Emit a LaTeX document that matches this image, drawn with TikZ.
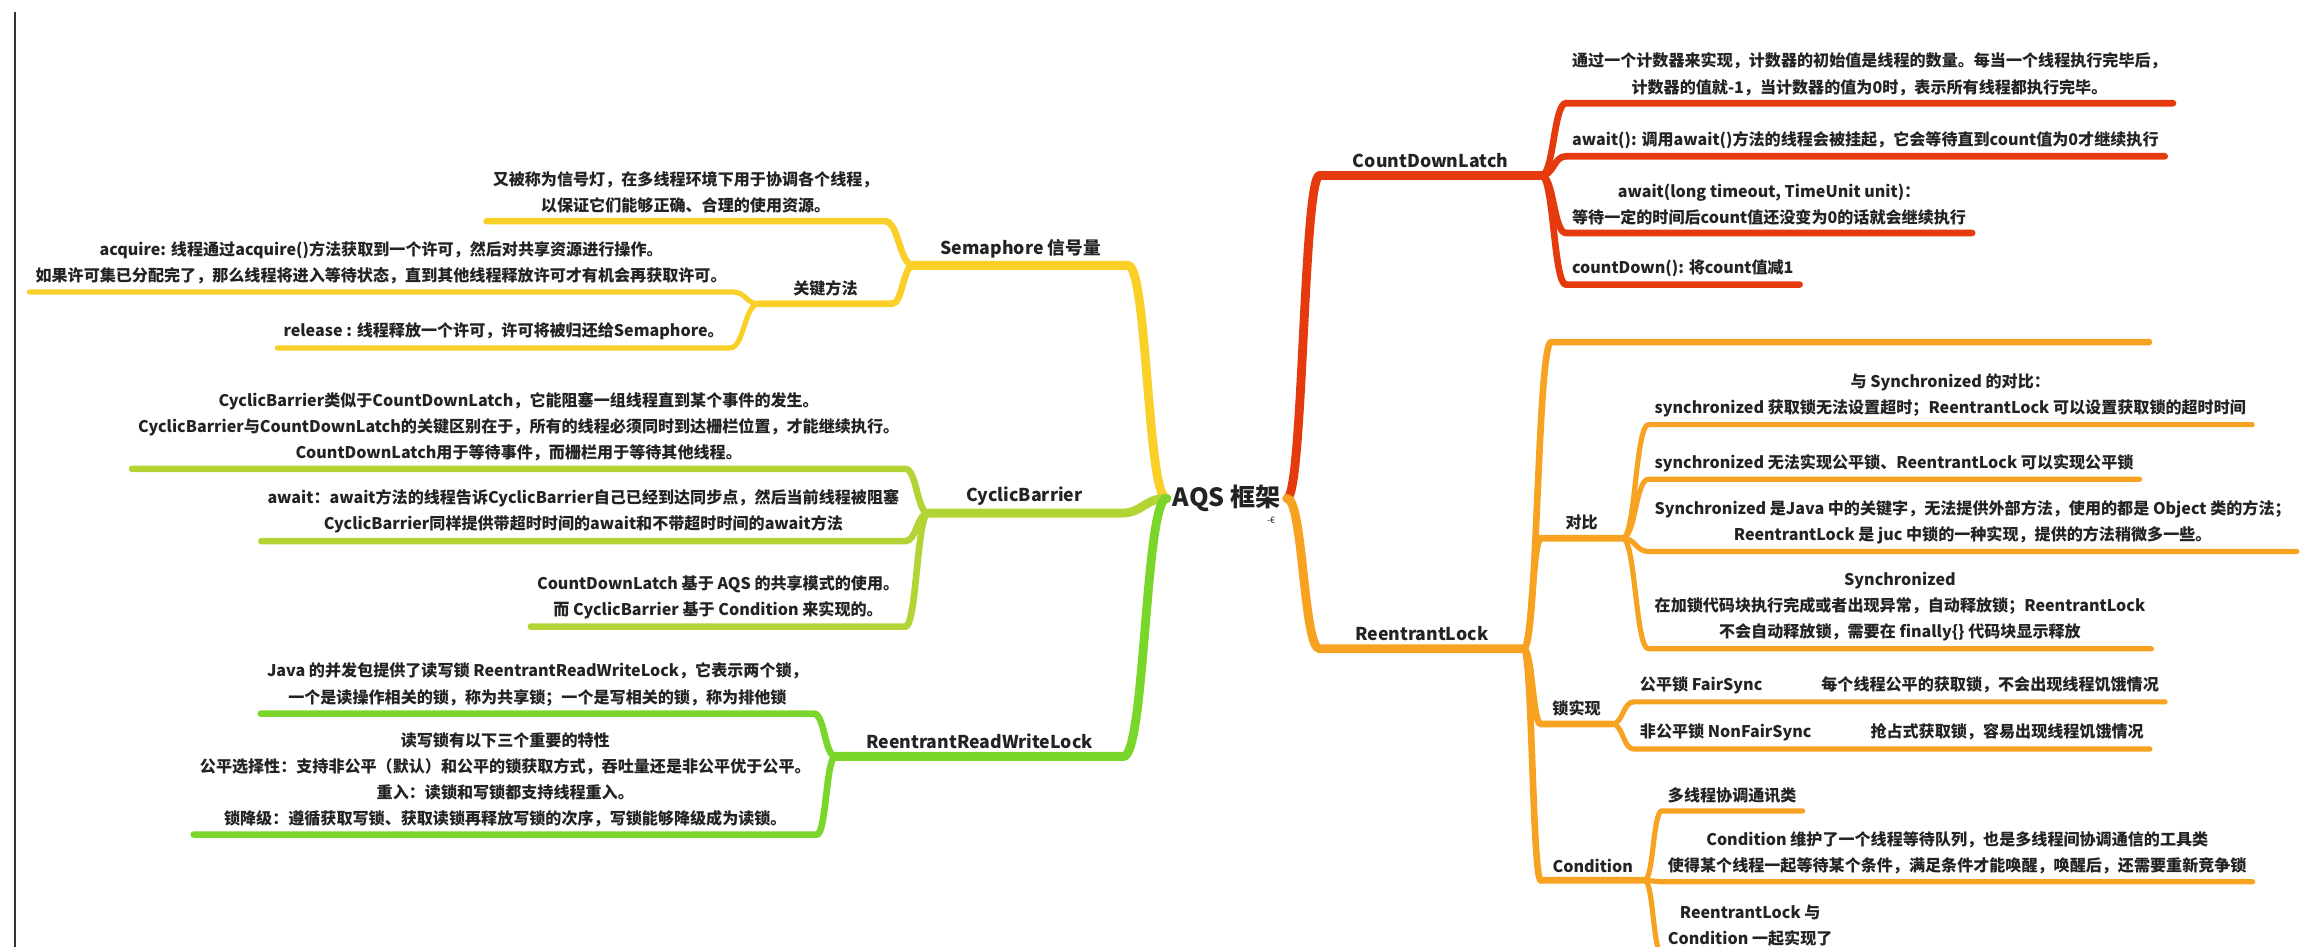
\documentclass[tikz,border=0pt]{standalone}
\usepackage{fontspec}
\setmainfont{Noto Sans CJK SC}
\usetikzlibrary{calc}

\definecolor{semcol}{RGB}{250,208,40}
\definecolor{cbcol}{RGB}{178,212,52}
\definecolor{rwcol}{RGB}{122,214,42}
\definecolor{cdlcol}{RGB}{228,58,14}
\definecolor{rlcol}{RGB}{247,162,32}
\definecolor{txtcol}{RGB}{35,35,35}

\begin{document}
\begin{tikzpicture}[x=1pt,y=-1pt]
    \tikzstyle{branch}=[to path={.. controls ($(\tikztostart)!0.5!(\tikztostart -| \tikztotarget)$) and ($(\tikztotarget)!0.5!(\tikztotarget -| \tikztostart)$) .. (\tikztotarget) \tikztonodes}]
    \tikzstyle{topic}=[font=\fontsize{12}{16}\selectfont\bfseries,text=txtcol,inner xsep=0pt,inner ysep=5pt]
    \tikzstyle{leaf}=[font=\fontsize{10.9}{17.7}\selectfont\bfseries,text=txtcol,align=center,inner xsep=4pt,inner ysep=5pt]
    \tikzstyle{trunk}=[line width=6pt,line cap=round]
    \tikzstyle{twig}=[line width=4.5pt,line cap=round]
    \tikzstyle{sprig}=[line width=3.5pt,line cap=round]

    \useasboundingbox (0,0) rectangle (1568,642);
    \clip (0,0) rectangle (1568,642);
    \draw[line width=1.4pt,black!80] (10,8) -- (10,642);

    \node[font=\fontsize{17}{20}\selectfont\bfseries,text=txtcol,inner xsep=4pt](aqs) at (832,338){AQS 框架};
    \node[font=\fontsize{6}{7}\selectfont,text=txtcol](aqsmark) at (862,353){-€};

    \node[topic,anchor=south east,minimum width=145pt](sem) at (765,180){Semaphore 信号量};
    \node[topic,anchor=south east,minimum width=130pt](cb) at (760,348){CyclicBarrier};
    \node[topic,anchor=south east,minimum width=195pt](rw) at (762,513){ReentrantReadWriteLock};
    \node[topic,anchor=south west,minimum width=150pt](cdl) at (895,119){CountDownLatch};
    \node[topic,anchor=south west,minimum width=138pt](rl) at (895,440){ReentrantLock};

    \draw[trunk,semcol] (aqs.west) to[branch] (sem.south east) -- (sem.south west);
    \draw[trunk,cbcol] (aqs.west) to[branch] (cb.south east) -- (cb.south west);
    \draw[trunk,rwcol] (aqs.west) to[branch] (rw.south east) -- (rw.south west);
    \draw[trunk,cdlcol] (aqs.east) to[branch] (cdl.south west) -- (cdl.south east);
    \draw[trunk,rlcol] (aqs.east) to[branch] (rl.south west) -- (rl.south east);

    \node[leaf,anchor=south east](s1) at (600,150){又被称为信号灯，在多线程环境下用于协调各个线程，\\以保证它们能够正确、合理的使用资源。};
    \node[leaf,anchor=south east,inner xsep=0pt,minimum width=90pt](key) at (605,206){关键方法};
    \node[leaf,anchor=south east](a1) at (497,198){acquire: 线程通过acquire()方法获取到一个许可，然后对共享资源进行操作。\\如果许可集已分配完了，那么线程将进入等待状态，直到其他线程释放许可才有机会再获取许可。};
    \node[leaf,anchor=south east](a2) at (495,236){release : 线程释放一个许可，许可将被归还给Semaphore。};
    \draw[twig,semcol] (sem.south west) to[branch] (s1.south east) -- (s1.south west);
    \draw[twig,semcol] (sem.south west) to[branch] (key.south east) -- (key.south west);
    \draw[sprig,semcol] (key.south west) to[branch] (a1.south east) -- (a1.south west);
    \draw[sprig,semcol] (key.south west) to[branch] (a2.south east) -- (a2.south west);

    \node[leaf,anchor=south east](b1) at (614,318){CyclicBarrier类似于CountDownLatch，它能阻塞一组线程直到某个事件的发生。\\CyclicBarrier与CountDownLatch的关键区别在于，所有的线程必须同时到达栅栏位置，才能继续执行。\\CountDownLatch用于等待事件，而栅栏用于等待其他线程。};
    \node[leaf,anchor=south east](b2) at (614,367){await：await方法的线程告诉CyclicBarrier自己已经到达同步点，然后当前线程被阻塞\\CyclicBarrier同样提供带超时时间的await和不带超时时间的await方法};
    \node[leaf,anchor=south east](b3) at (614,425){CountDownLatch 基于 AQS 的共享模式的使用。\\而 CyclicBarrier 基于 Condition 来实现的。};
    \draw[twig,cbcol] (cb.south west) to[branch] (b1.south east) -- (b1.south west);
    \draw[twig,cbcol] (cb.south west) to[branch] (b2.south east) -- (b2.south west);
    \draw[twig,cbcol] (cb.south west) to[branch] (b3.south east) -- (b3.south west);

    \node[leaf,anchor=south east](r1) at (552,484){Java 的并发包提供了读写锁 ReentrantReadWriteLock，它表示两个锁，\\一个是读操作相关的锁，称为共享锁；一个是写相关的锁，称为排他锁};
    \node[leaf,anchor=south east](r2) at (554,566){读写锁有以下三个重要的特性\\公平选择性：支持非公平（默认）和公平的锁获取方式，吞吐量还是非公平优于公平。\\重入：读锁和写锁都支持线程重入。\\锁降级：遵循获取写锁、获取读锁再释放写锁的次序，写锁能够降级成为读锁。};
    \draw[twig,rwcol] (rw.south west) to[branch] (r1.south east) -- (r1.south west);
    \draw[twig,rwcol] (rw.south west) to[branch] (r2.south east) -- (r2.south west);

    \node[leaf,anchor=south west](cdl1) at (1062,70){通过一个计数器来实现，计数器的初始值是线程的数量。每当一个线程执行完毕后，\\计数器的值就-1，当计数器的值为0时，表示所有线程都执行完毕。};
    \node[leaf,anchor=south west](cdl2) at (1062,106){await(): 调用await()方法的线程会被挂起，它会等待直到count值为0才继续执行};
    \node[leaf,anchor=south west](cdl3) at (1062,158){await(long timeout, TimeUnit unit)：\\等待一定的时间后count值还没变为0的话就会继续执行};
    \node[leaf,anchor=south west](cdl4) at (1062,193){countDown(): 将count值减1};
    \draw[twig,cdlcol] (cdl.south east) to[branch] (cdl1.south west) -- (cdl1.south east);
    \draw[twig,cdlcol] (cdl.south east) to[branch] (cdl2.south west) -- (cdl2.south east);
    \draw[twig,cdlcol] (cdl.south east) to[branch] (cdl3.south west) -- (cdl3.south east);
    \draw[twig,cdlcol] (cdl.south east) to[branch] (cdl4.south west) -- (cdl4.south east);

    \node[leaf,anchor=south west,minimum width=405pt](rlx) at (1052,232){};
    \node[leaf,anchor=south west,inner xsep=0pt,minimum width=55pt](cmp) at (1045,365){对比};
    \node[leaf,anchor=south west,inner xsep=0pt,minimum width=48pt](impl) at (1045,491){锁实现};
    \node[leaf,anchor=south west,inner xsep=0pt,minimum width=70pt](cond) at (1045,597){Condition};
    \draw[twig,rlcol] (rl.south east) to[branch] (rlx.south west) -- (rlx.south east);
    \draw[twig,rlcol] (rl.south east) to[branch] (cmp.south west) -- (cmp.south east);
    \draw[twig,rlcol] (rl.south east) to[branch] (impl.south west) -- (impl.south east);
    \draw[twig,rlcol] (rl.south east) to[branch] (cond.south west) -- (cond.south east);

    \node[leaf,anchor=south west](c1) at (1118,288){与 Synchronized 的对比：\\synchronized 获取锁无法设置超时；ReentrantLock 可以设置获取锁的超时时间};
    \node[leaf,anchor=south west](c2) at (1118,325){synchronized 无法实现公平锁、ReentrantLock 可以实现公平锁};
    \node[leaf,anchor=south west](c3) at (1118,374){Synchronized 是Java 中的关键字，无法提供外部方法，使用的都是 Object 类的方法；\\ReentrantLock 是 juc 中锁的一种实现，提供的方法稍微多一些。};
    \node[leaf,anchor=south west](c4) at (1118,440){Synchronized\\在加锁代码块执行完成或者出现异常，自动释放锁；ReentrantLock\\不会自动释放锁，需要在 finally\{\} 代码块显示释放};
    \draw[sprig,rlcol] (cmp.south east) to[branch] (c1.south west) -- (c1.south east);
    \draw[sprig,rlcol] (cmp.south east) to[branch] (c2.south west) -- (c2.south east);
    \draw[sprig,rlcol] (cmp.south east) to[branch] (c3.south west) -- (c3.south east);
    \draw[sprig,rlcol] (cmp.south east) to[branch] (c4.south west) -- (c4.south east);

    \node[leaf,anchor=south west](f1) at (1108,476){公平锁 FairSync\hspace{40pt}每个线程公平的获取锁，不会出现线程饥饿情况};
    \node[leaf,anchor=south west](f2) at (1108,508){非公平锁 NonFairSync\hspace{40pt}抢占式获取锁，容易出现线程饥饿情况};
    \draw[sprig,rlcol] (impl.south east) to[branch] (f1.south west) -- (f1.south east);
    \draw[sprig,rlcol] (impl.south east) to[branch] (f2.south west) -- (f2.south east);

    \node[leaf,anchor=south west](k1) at (1127,550){多线程协调通讯类};
    \node[leaf,anchor=south west](k2) at (1127,598){Condition 维护了一个线程等待队列，也是多线程间协调通信的工具类\\使得某个线程一起等待某个条件，满足条件才能唤醒，唤醒后，还需要重新竞争锁};
    \node[leaf,anchor=south west](k3) at (1127,647){ReentrantLock 与\\Condition 一起实现了};
    \draw[sprig,rlcol] (cond.south east) to[branch] (k1.south west) -- (k1.south east);
    \draw[sprig,rlcol] (cond.south east) to[branch] (k2.south west) -- (k2.south east);
    \draw[sprig,rlcol] (cond.south east) to[branch] (k3.south west) -- (k3.south east);
\end{tikzpicture}
\end{document}
